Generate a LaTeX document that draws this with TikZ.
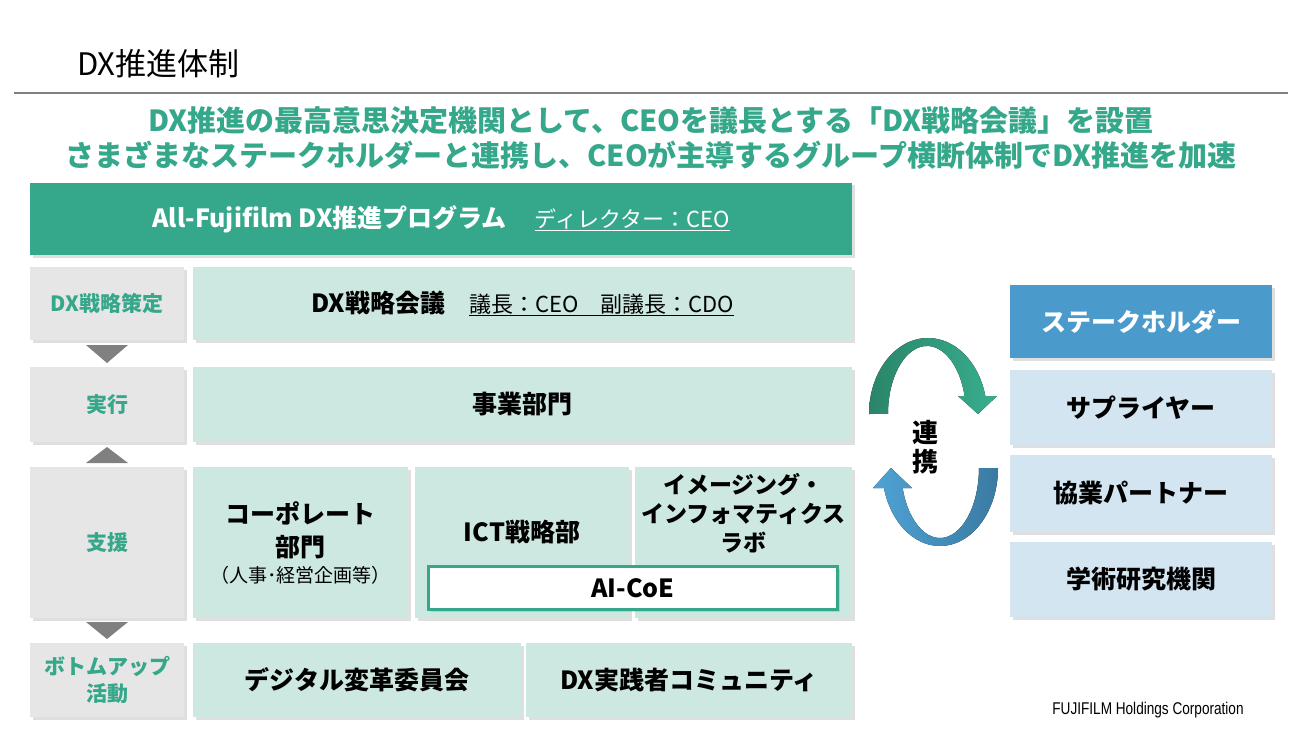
\documentclass[tikz,border=0pt]{standalone}
\usepackage{fontspec}
\setmainfont{Noto Sans CJK JP}
\newfontfamily\latinfont{Liberation Sans}
\usepackage{tikz}
\tikzset{>=latex}
\usetikzlibrary{shadows}
\definecolor{dxteal}{HTML}{35A78A}
\definecolor{mintfill}{HTML}{CCE8E0}
\definecolor{stagegray}{HTML}{E6E6E6}
\definecolor{trigray}{HTML}{808080}
\definecolor{holderblue}{HTML}{4A9BCC}
\definecolor{paleblue}{HTML}{D3E5F1}
\definecolor{arcgreendark}{HTML}{2A8569}
\definecolor{arcgreen}{HTML}{38AE8E}
\definecolor{arcbluelight}{HTML}{4EA3D5}
\definecolor{arcbluedark}{HTML}{3B7AA2}
\newcommand*{\fsz}[2]{\fontsize{#1}{#2}\selectfont}
\tikzset{
    boxshadow/.style={drop shadow={shadow xshift=2.5pt, shadow yshift=-2.5pt, opacity=0.25}},
    plainbox/.style={boxshadow, align=center, anchor=north west, inner sep=0pt, outer sep=0pt},
    headbox/.style={plainbox, fill=dxteal, text=white, font=\fsz{25}{30}\bfseries},
    stagebox/.style={plainbox, fill=stagegray, text=dxteal, font=\fsz{21}{27}\bfseries, minimum width=154},
    unitbox/.style={plainbox, fill=mintfill, font=\fsz{25}{33}\bfseries},
    holderbox/.style={plainbox, fill=paleblue, font=\fsz{25}{30}\bfseries, minimum width=262},
    unitlabel/.style={align=center, inner sep=0pt, font=\fsz{25}{33}\bfseries},
    stagetri/.style={fill=trigray}
}

\begin{document}
\begin{tikzpicture}[x=1pt, y=-1pt]
    \fill[white](0, 0)rectangle(1300, 730);
    \useasboundingbox(0, 0)rectangle(1300, 730);
    % title and message
    \node[anchor=west, inner sep=0pt, font=\fsz{31}{36}](title)at(77, 64){DX推進体制};
    \draw[black!50, line width=1.2](14, 93)--(1288, 93);
    \node[align=center, text=dxteal, font=\fsz{29}{35}\bfseries](msg)at(651, 138)
        {DX推進の最高意思決定機関として、CEOを議長とする「DX戦略会議」を設置\\
         さまざまなステークホルダーと連携し、CEOが主導するグループ横断体制でDX推進を加速};
    % program
    \node[headbox, minimum width=822, minimum height=72](prog)at(30, 183)
        {All-Fujifilm DX推進プログラム\hspace{28pt}{\mdseries\fsz{22}{26}\underline{ディレクター：CEO}}};
    % stages
    \node[stagebox, minimum height=73](s1)at(30, 267){DX戦略策定};
    \node[stagebox, minimum height=75](s2)at(30, 367){実行};
    \node[stagebox, minimum height=151](s3)at(30, 467){支援};
    \node[stagebox, minimum height=74](s4)at(30, 643){ボトムアップ\\活動};
    \fill[stagetri]([xshift=-21pt, yshift=-5pt]s1.south)--([xshift=21pt, yshift=-5pt]s1.south)--([yshift=4pt]s2.north)--cycle;
    \fill[stagetri]([xshift=-21pt, yshift=4pt]s3.north)--([xshift=21pt, yshift=4pt]s3.north)--([yshift=-5pt]s2.south)--cycle;
    \fill[stagetri]([xshift=-21pt, yshift=-4pt]s3.south)--([xshift=21pt, yshift=-4pt]s3.south)--([yshift=4pt]s4.north)--cycle;
    % units
    \node[unitbox, minimum width=659, minimum height=73](council)at(193, 267)
        {DX戦略会議\hspace{24pt}{\mdseries\fsz{22}{26}\underline{議長：CEO　副議長：CDO}}};
    \node[unitbox, minimum width=659, minimum height=75](biz)at(193, 367){事業部門};
    \node[unitbox, minimum width=215, minimum height=151](corp)at(193, 467)
        {コーポレート\\部門\\[-7pt]{\mdseries\fsz{19}{22}（人事･経営企画等）}};
    \node[unitbox, minimum width=214, minimum height=151](ict)at(415, 467){};
    \node[unitbox, minimum width=217, minimum height=151](lab)at(635, 467){};
    \node[unitlabel](ictname)at([yshift=10pt]ict.center){ICT戦略部};
    \node[unitlabel, font=\fsz{23}{29}\bfseries](labname)at([yshift=29pt]lab.center)
        {イメージング・\\インフォマティクス\\ラボ};
    \node[plainbox, fill=white, draw=dxteal, line width=3, minimum width=409, minimum height=43,
        font=\fsz{25}{30}\bfseries](aicoe)at(428.5, 566.5){AI-CoE};
    \node[unitbox, minimum width=328, minimum height=74](dxc)at(193, 643){デジタル変革委員会};
    \node[unitbox, minimum width=326, minimum height=74](comm)at(526, 643){DX実践者コミュニティ};
    % cooperation
    \fill[left color=arcgreendark, right color=arcgreen](869, 414)
        arc[start angle=180, end angle=346.3, x radius=59, y radius=76]--(997, 396)--(978, 414)--(958, 396)--(964.6, 396)
        arc[start angle=344.7, end angle=180, x radius=39, y radius=68]--cycle;
    \fill[left color=arcbluelight, right color=arcbluedark](998, 468)
        arc[start angle=0, end angle=165.1, x radius=58, y radius=78]--(873, 488)--(891, 468)--(912, 488)--(902.6, 488)
        arc[start angle=163.4, end angle=0, x radius=39, y radius=70]--cycle;
    \node[align=center, inner sep=0pt, font=\fsz{26}{29}\bfseries](coop)at(925, 447){連\\携};
    % stakeholders
    \node[holderbox, fill=holderblue, text=white, minimum height=73](holders)at(1010, 285){ステークホルダー};
    \node[holderbox, minimum height=75](supplier)at(1010, 370){サプライヤー};
    \node[holderbox, minimum height=77](partner)at(1010, 455){協業パートナー};
    \node[holderbox, minimum height=75](academia)at(1010, 542){学術研究機関};
    \node[inner sep=0pt, font=\latinfont\fsz{17}{20}](corpname)at(1148, 710){\scalebox{0.8}[1]{FUJIFILM Holdings Corporation}};
\end{tikzpicture}
\end{document}
